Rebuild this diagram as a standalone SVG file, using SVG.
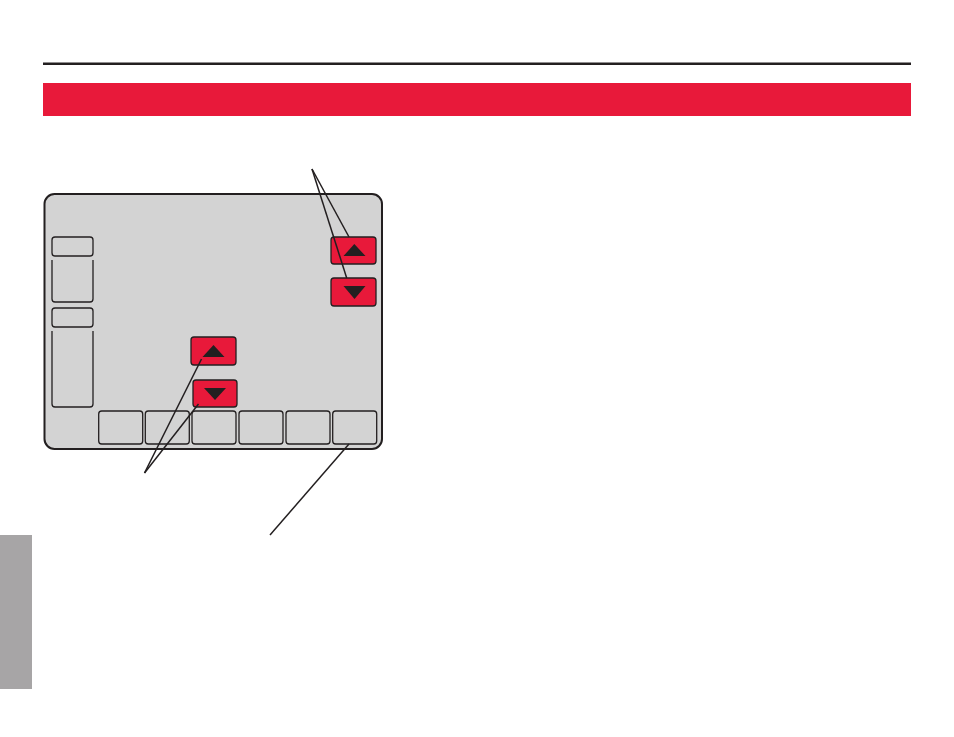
<svg xmlns="http://www.w3.org/2000/svg" width="954" height="737" viewBox="0 0 954 737">
<style>
.ln{stroke:#231f20;stroke-width:1.5;fill:none}
.box{fill:none;stroke:#231f20;stroke-width:1.3}
.btn{fill:#e8193a;stroke:#231f20;stroke-width:1.3}
.tri{fill:#231f20}
</style>
<rect width="954" height="737" fill="#ffffff"/>
<g id="header">
<rect x="43" y="62.5" width="868" height="2.5" fill="#231f20"/>
<rect x="43" y="83" width="868" height="33" fill="#e8193a"/>
</g>
<g id="side-tab"><rect x="0" y="535" width="32" height="154" fill="#a7a5a6"/></g>
<g id="screen">
<rect x="44.5" y="194" width="337.5" height="255" rx="10" fill="#d3d3d3" stroke="#231f20" stroke-width="2"/>
<rect class="box" x="52" y="237" width="41" height="19" rx="3"/>
<path class="box" d="M52 260 V299 a3 3 0 0 0 3 3 H90 a3 3 0 0 0 3 -3 V260"/>
<rect class="box" x="52" y="308" width="41" height="19" rx="3"/>
<path class="box" d="M52 331 V404 a3 3 0 0 0 3 3 H90 a3 3 0 0 0 3 -3 V331"/>
<rect class="box" x="98.7" y="411" width="44" height="33" rx="3"/>
<rect class="box" x="145.3" y="411" width="44" height="33" rx="3"/>
<rect class="box" x="192" y="411" width="44" height="33" rx="3"/>
<rect class="box" x="239" y="411" width="44" height="33" rx="3"/>
<rect class="box" x="286" y="411" width="44" height="33" rx="3"/>
<rect class="box" x="332.7" y="411" width="44" height="33" rx="3"/>
</g>
<g id="btn-right-up"><rect class="btn" x="331" y="237" width="45" height="27" rx="3"/><polygon class="tri" points="354.3,244 365.5,256 343.5,256"/></g>
<g id="btn-right-down"><rect class="btn" x="331" y="278" width="45" height="28" rx="3"/><polygon class="tri" points="343.5,286 365.5,286 354.5,299"/></g>
<g id="btn-mid-up"><rect class="btn" x="191" y="337" width="45" height="28" rx="3"/><polygon class="tri" points="213.5,345 224.5,357 202.5,357"/></g>
<g id="btn-mid-down"><rect class="btn" x="193" y="380" width="44" height="27" rx="3"/><polygon class="tri" points="204,388 226,388 215,400"/></g>
<g id="connectors">
<line class="ln" x1="312" y1="169" x2="349" y2="237"/>
<line class="ln" x1="312" y1="169" x2="346.7" y2="278"/>
<line class="ln" x1="144.5" y1="473" x2="201.5" y2="359"/>
<line class="ln" x1="144.5" y1="473" x2="198.5" y2="404"/>
<line class="ln" x1="270" y1="535" x2="349" y2="444"/>
</g>
</svg>
